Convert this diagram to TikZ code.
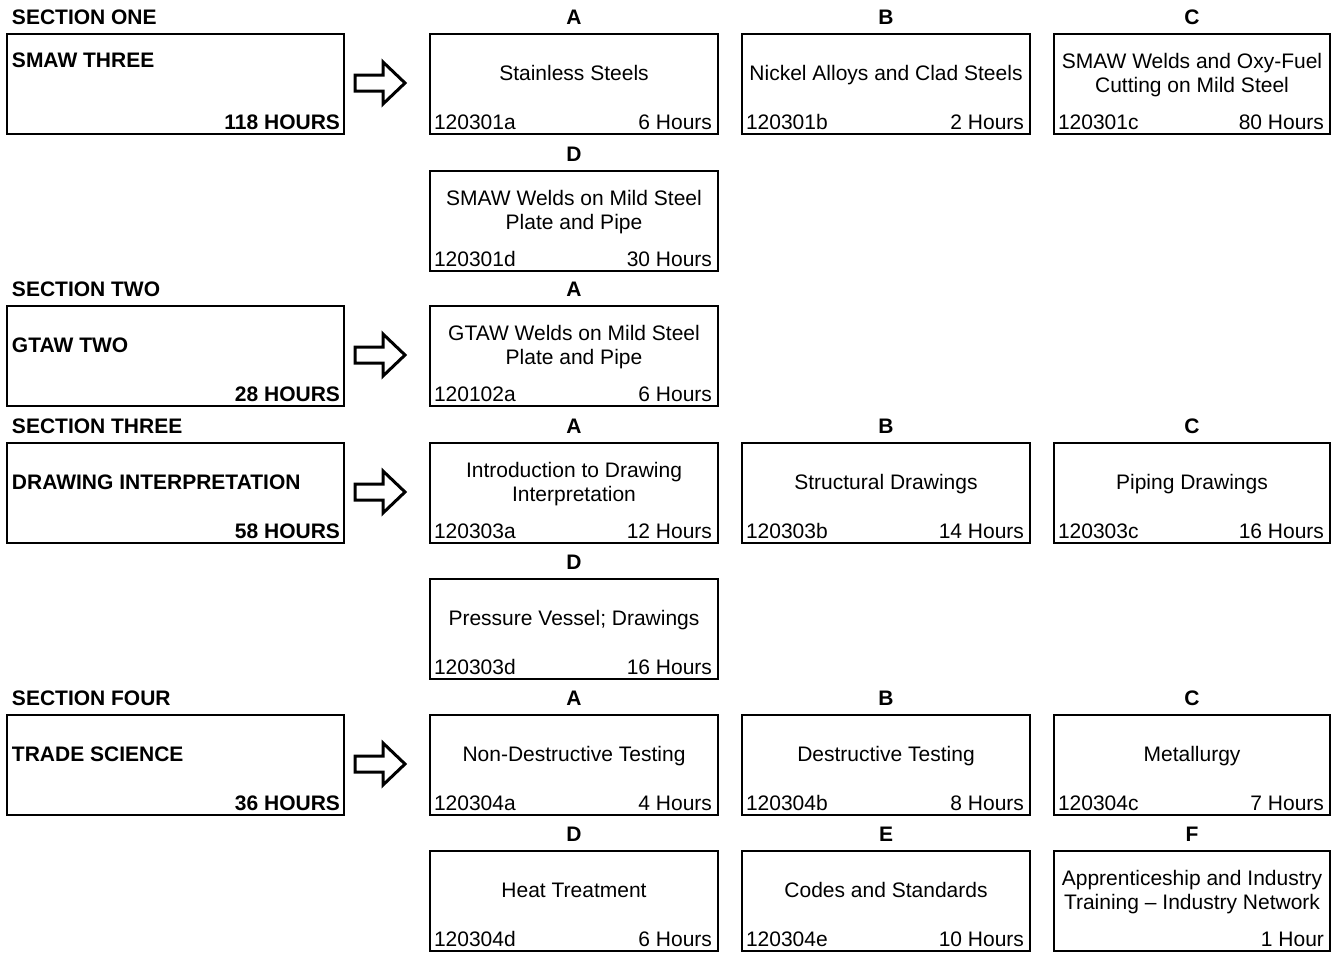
\documentclass[tikz,border=0pt]{standalone}
\usepackage{fontspec}
\setmainfont{Liberation Sans}
\usetikzlibrary{positioning}

\begin{document}
\begin{tikzpicture}[x=1pt, y=-1pt, line width=2pt,
    every node/.style={font=\fontsize{21}{24}\selectfont, inner sep=0pt, outer sep=0pt},
    unit/.style={draw, anchor=north west, minimum height=100pt},
    tag/.style={font=\fontsize{21}{24}\selectfont\bfseries}]
    \useasboundingbox (0,0) rectangle (1338,953);
    % course boxes and arrows
    \foreach \n/\y/\s/\b/\o/\h in {1/34/ONE/SMAW THREE/33.5/118, 2/306/TWO/GTAW TWO/46.5/28,
        3/443/THREE/DRAWING INTERPRETATION/46.5/58, 4/715/FOUR/TRADE SCIENCE/46.5/36} {
        \node[unit, minimum width=337pt] (c\n) at (7,\y) {};
        \node[tag, anchor=base west] (c\n-s) at (12,\y-9.5) {SECTION \s};
        \node[tag, anchor=base west] (c\n-b) at (12,\y+\o) {\b};
        \node[tag, anchor=base east] (c\n-h) at (340,\y+95.5) {\h\ HOURS};
        \draw[line width=3pt] (355,\y+41) -- ++(28,0) -- ++(0,-13) -- (405,\y+49)
            -- (383,\y+70) -- ++(0,-13) -- (355,\y+57) -- cycle;
    }
    % unit boxes
    \foreach \n/\x/\y/\w/\l/\t/\c/\h in {
        1a/430/34/288/A/{Stainless Steels}/120301a/{6 Hours},
        1b/742/34/288/B/{Nickel Alloys and Clad Steels}/120301b/{2 Hours},
        1c/1054/34/276/C/{SMAW Welds and Oxy-Fuel\\Cutting on Mild Steel}/120301c/{80 Hours},
        1d/430/171/288/D/{SMAW Welds on Mild Steel\\Plate and Pipe}/120301d/{30 Hours},
        2a/430/306/288/A/{GTAW Welds on Mild Steel\\Plate and Pipe}/120102a/{6 Hours},
        3a/430/443/288/A/{Introduction to Drawing\\Interpretation}/120303a/{12 Hours},
        3b/742/443/288/B/{Structural Drawings}/120303b/{14 Hours},
        3c/1054/443/276/C/{Piping Drawings}/120303c/{16 Hours},
        3d/430/579/288/D/{Pressure Vessel; Drawings}/120303d/{16 Hours},
        4a/430/715/288/A/{Non-Destructive Testing}/120304a/{4 Hours},
        4b/742/715/288/B/{Destructive Testing}/120304b/{8 Hours},
        4c/1054/715/276/C/{Metallurgy}/120304c/{7 Hours},
        4d/430/851/288/D/{Heat Treatment}/120304d/{6 Hours},
        4e/742/851/288/E/{Codes and Standards}/120304e/{10 Hours},
        4f/1054/851/276/F/{Apprenticeship and Industry\\Training – Industry Network}/{}/{1 Hour}} {
        \node[unit, minimum width=\w pt] (u\n) at (\x,\y) {};
        \node[tag, anchor=base] (u\n-l) at (\x+\w/2,\y-9.5) {\l};
        \node[align=center, text depth=0pt] (u\n-t) at (\x+\w/2,\y+39) {\t};
        \node[anchor=base west] (u\n-c) at (\x+4,\y+95.5) {\c};
        \node[anchor=base east] (u\n-h) at (\x+\w-6,\y+95.5) {\h};
    }
\end{tikzpicture}
\end{document}
